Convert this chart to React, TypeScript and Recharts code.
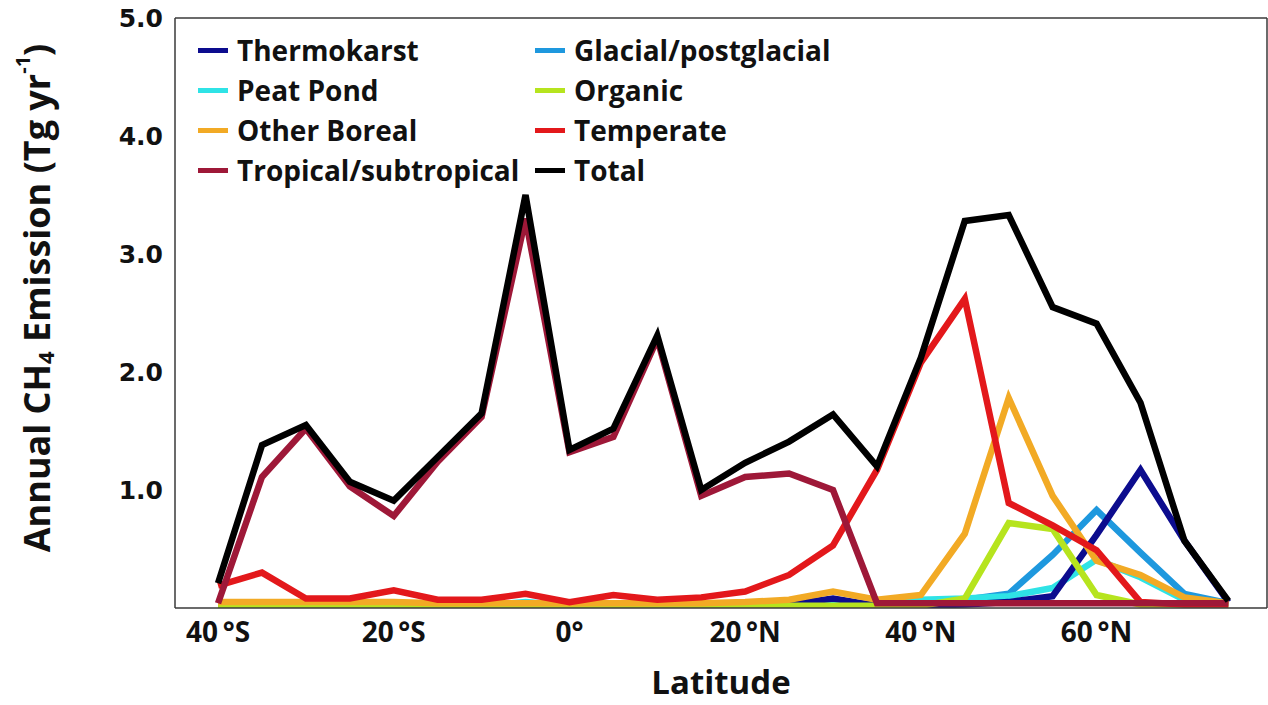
import React from 'react';
import { LineChart, Line, XAxis, YAxis } from 'recharts';

const latitudes = [-40, -35, -30, -25, -20, -15, -10, -5, 0, 5, 10, 15, 20, 25, 30, 35, 40, 45, 50, 55, 60, 65, 70, 75];

const thermokarst = [0.02, 0.02, 0.02, 0.02, 0.02, 0.02, 0.02, 0.02, 0.02, 0.02, 0.02, 0.02, 0.02, 0.03, 0.08, 0.02, 0.02, 0.03, 0.05, 0.1, 0.62, 1.17, 0.57, 0.05];
const glacial = [0.02, 0.02, 0.02, 0.02, 0.02, 0.02, 0.02, 0.02, 0.02, 0.02, 0.02, 0.02, 0.02, 0.02, 0.02, 0.02, 0.04, 0.07, 0.12, 0.45, 0.83, 0.47, 0.12, 0.04];
const peatPond = [0.02, 0.02, 0.02, 0.02, 0.02, 0.02, 0.02, 0.05, 0.02, 0.02, 0.02, 0.02, 0.02, 0.03, 0.05, 0.03, 0.07, 0.08, 0.1, 0.17, 0.41, 0.26, 0.07, 0.03];
const organic = [0.02, 0.02, 0.02, 0.02, 0.02, 0.02, 0.02, 0.02, 0.02, 0.02, 0.02, 0.02, 0.02, 0.02, 0.02, 0.02, 0.02, 0.08, 0.72, 0.67, 0.11, 0.03, 0.03, 0.03];
const otherBoreal = [0.05, 0.05, 0.05, 0.05, 0.05, 0.04, 0.04, 0.04, 0.04, 0.04, 0.04, 0.04, 0.05, 0.07, 0.14, 0.07, 0.11, 0.63, 1.78, 0.95, 0.4, 0.28, 0.09, 0.04];
const temperate = [0.19, 0.3, 0.08, 0.08, 0.15, 0.07, 0.07, 0.12, 0.05, 0.11, 0.07, 0.09, 0.14, 0.28, 0.53, 1.17, 2.08, 2.62, 0.89, 0.7, 0.49, 0.05, 0.03, 0.03];
const tropical = [0.04, 1.11, 1.52, 1.03, 0.78, 1.24, 1.62, 3.3, 1.32, 1.45, 2.28, 0.95, 1.11, 1.14, 1.0, 0.04, 0.04, 0.04, 0.04, 0.04, 0.04, 0.04, 0.04, 0.04];
const total = [0.21, 1.38, 1.55, 1.07, 0.91, 1.28, 1.65, 3.5, 1.34, 1.52, 2.31, 1.0, 1.23, 1.41, 1.64, 1.2, 2.12, 3.28, 3.33, 2.55, 2.41, 1.74, 0.57, 0.06];

const xLabelTicks = [-40, -20, 0, 20, 40, 60];
const xLabelText = ['40\u2009°S', '20\u2009°S', '0°', '20\u2009°N', '40\u2009°N', '60\u2009°N'];
const xMinorTicks = [-40, -30, -20, -10, 0, 10, 20, 30, 40, 50, 60, 70];
const yTicks = [1, 2, 3, 4, 5];
const yLabelText = ['1.0', '2.0', '3.0', '4.0', '5.0'];

const series = [
  { key: 'glacial', name: 'Glacial/postglacial', color: '#1E98DE', values: glacial },
  { key: 'peatPond', name: 'Peat Pond', color: '#2FE3E6', values: peatPond },
  { key: 'thermokarst', name: 'Thermokarst', color: '#0C0C8E', values: thermokarst },
  { key: 'organic', name: 'Organic', color: '#B6E41E', values: organic },
  { key: 'otherBoreal', name: 'Other Boreal', color: '#F2AA25', values: otherBoreal },
  { key: 'temperate', name: 'Temperate', color: '#E3181B', values: temperate },
  { key: 'tropical', name: 'Tropical/subtropical', color: '#9E1838', values: tropical },
  { key: 'total', name: 'Total', color: '#000000', values: total },
];

const legendRows = [
  ['thermokarst', 'glacial'],
  ['peatPond', 'organic'],
  ['otherBoreal', 'temperate'],
  ['tropical', 'total'],
];

const data = latitudes.map((lat, i) => {
  const row: Record<string, number> = { lat };
  series.forEach((s) => {
    row[s.key] = s.values[i];
  });
  return row;
});

const FONT = "'Open Sans', 'DejaVu Sans', sans-serif";
const AXIS_COLOR = '#3a3a3a';

const YLabel = () => (
  <text
    x={36}
    y={298}
    transform="rotate(-90 36 298)"
    textAnchor="middle"
    dominantBaseline="central"
    fontFamily={FONT}
    fontWeight={700}
    fontSize={36}
    fill="#111"
  >
    Annual CH
    <tspan fontSize={22} dy={9}>4</tspan>
    <tspan dy={-9}> Emission (Tg yr</tspan>
    <tspan fontSize={20} dy={-14}>-1</tspan>
    <tspan dy={14}>)</tspan>
  </text>
);

const XLabel = (props: any) => {
  const vb = props.viewBox || { x: 175, y: 608, width: 1092 };
  return (
    <text
      x={vb.x + vb.width / 2}
      y={vb.y + 86}
      textAnchor="middle"
      fontFamily={FONT}
      fontWeight={700}
      fontSize={33}
      fill="#111"
    >
      Latitude
    </text>
  );
};

export default function App() {
  const byKey: Record<string, (typeof series)[number]> = {};
  series.forEach((s) => (byKey[s.key] = s));
  return (
    <div style={{ position: 'absolute', left: 0, top: 0, width: 1268, height: 705, background: '#fff' }}>
      <LineChart width={1268} height={705} data={data} margin={{ top: 18, right: 1, left: 0, bottom: 0 }}>
        <XAxis
          xAxisId="b"
          type="number"
          dataKey="lat"
          domain={[-44.9, 79.4]}
          ticks={xLabelTicks}
          tickFormatter={(v: number) => xLabelText[xLabelTicks.indexOf(v)] ?? ''}
          tickLine={false}
          tickSize={0}
          tickMargin={14}
          height={97}
          axisLine={{ stroke: AXIS_COLOR, strokeWidth: 1.5 }}
          tick={{ fontFamily: FONT, fontWeight: 700, fontSize: 28, fill: '#111' }}
          label={<XLabel />}
          allowDataOverflow
        />
        <XAxis
          xAxisId="bm"
          type="number"
          dataKey="lat"
          orientation="bottom"
          mirror
          domain={[-44.9, 79.4]}
          ticks={xMinorTicks}
          tick={false}
          tickSize={8}
          axisLine={false}
          tickLine={{ stroke: AXIS_COLOR, strokeWidth: 1.5 }}
          allowDataOverflow
        />
        <XAxis
          xAxisId="t"
          type="number"
          dataKey="lat"
          orientation="top"
          mirror
          domain={[-44.9, 79.4]}
          ticks={xMinorTicks}
          tick={false}
          tickSize={8}
          axisLine={{ stroke: AXIS_COLOR, strokeWidth: 1.5 }}
          tickLine={{ stroke: AXIS_COLOR, strokeWidth: 1.5 }}
          allowDataOverflow
        />
        <YAxis
          yAxisId="l"
          type="number"
          domain={[0, 5]}
          ticks={yTicks}
          tickFormatter={(v: number) => yLabelText[yTicks.indexOf(v)] ?? ''}
          width={175}
          tickLine={false}
          tickSize={0}
          tickMargin={12}
          axisLine={{ stroke: AXIS_COLOR, strokeWidth: 1.5 }}
          tick={{ fontFamily: "'DejaVu Sans', sans-serif", fontWeight: 700, fontSize: 25, fill: '#111' }}
          label={<YLabel />}
          allowDataOverflow
        />
        <YAxis
          yAxisId="lm"
          type="number"
          orientation="left"
          mirror
          domain={[0, 5]}
          ticks={[1, 2, 3, 4]}
          tick={false}
          tickSize={8}
          axisLine={false}
          tickLine={{ stroke: AXIS_COLOR, strokeWidth: 1.5 }}
          allowDataOverflow
        />
        <YAxis
          yAxisId="r"
          type="number"
          orientation="right"
          mirror
          domain={[0, 5]}
          ticks={[1, 2, 3, 4]}
          tick={false}
          tickSize={8}
          axisLine={{ stroke: AXIS_COLOR, strokeWidth: 1.5 }}
          tickLine={{ stroke: AXIS_COLOR, strokeWidth: 1.5 }}
          allowDataOverflow
        />
        {series.map((s) => (
          <Line
            key={s.key}
            xAxisId="b"
            yAxisId="l"
            type="linear"
            dataKey={s.key}
            name={s.name}
            stroke={s.color}
            strokeWidth={6.5}
            dot={false}
            activeDot={false}
            isAnimationActive={false}
          />
        ))}
      </LineChart>
      <div
        style={{
          position: 'absolute',
          left: 198,
          top: 30,
          display: 'grid',
          gridTemplateColumns: '337px auto',
          fontFamily: FONT,
          fontWeight: 700,
          fontSize: 28,
          color: '#111',
        }}
      >
        {legendRows.flat().map((k) => (
          <div key={k} style={{ display: 'flex', alignItems: 'center', height: 40, whiteSpace: 'nowrap' }}>
            <span style={{ display: 'inline-block', width: 30, height: 5, background: byKey[k].color, marginRight: 9 }} />
            <span style={{ lineHeight: '40px' }}>{byKey[k].name}</span>
          </div>
        ))}
      </div>
    </div>
  );
}
